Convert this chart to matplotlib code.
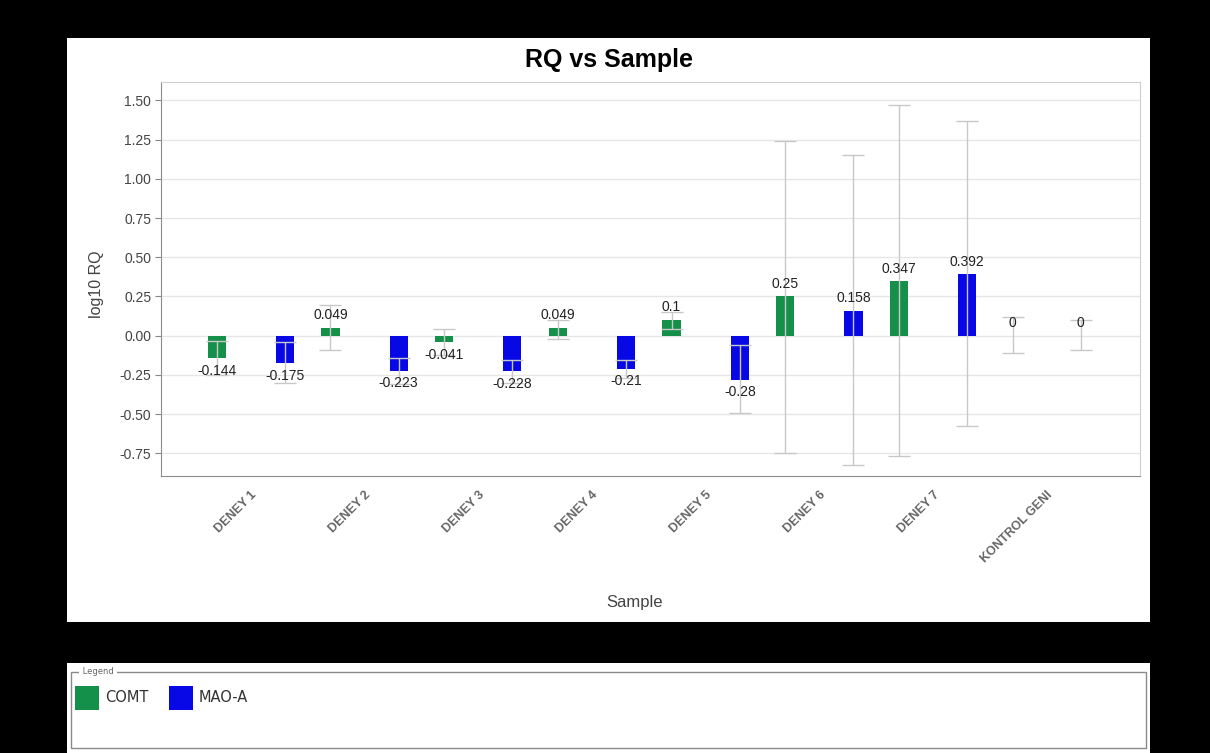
import numpy as np
import matplotlib.pyplot as plt
from matplotlib.patches import Rectangle
from matplotlib.transforms import ScaledTranslation

plt.rcParams['font.family'] = ['Liberation Sans', 'DejaVu Sans']

# ---------- data ----------
SAMPLES = ['DENEY 1', 'DENEY 2', 'DENEY 3', 'DENEY 4', 'DENEY 5',
           'DENEY 6', 'DENEY 7', 'KONTROL GENI']

comt_rq = [-0.144, 0.049, -0.041, 0.049, 0.1, 0.25, 0.347, 0]
comt_low = [-0.25, -0.09, -0.12, -0.02, 0.04, -0.745, -0.764, -0.11]
comt_high = [-0.035, 0.197, 0.044, 0.10, 0.15, 1.243, 1.473, 0.12]

maoa_rq = [-0.175, -0.223, -0.228, -0.21, -0.28, 0.158, 0.392, 0]
maoa_low = [-0.30, -0.31, -0.30, -0.27, -0.49, -0.823, -0.573, -0.09]
maoa_high = [-0.04, -0.14, -0.155, -0.155, -0.06, 1.149, 1.371, 0.10]

Y_TICKS = [-0.75, -0.5, -0.25, 0.0, 0.25, 0.5, 0.75, 1.0, 1.25, 1.5]

COLORS = {'COMT': '#15904a', 'MAO-A': '#0808e6'}
W, H = 1210, 753


def fx(px):
    return px / W


def fy(py):
    return 1 - py / H


def fmt(v):
    if v == 0:
        return '0'
    return ('%.3f' % v).rstrip('0').rstrip('.')


fig = plt.figure(figsize=(W / 100, H / 100), dpi=100, facecolor='black')

# white chart panel and legend panel (behind the axes)
fig.patches.append(Rectangle((fx(67), fy(622)), fx(1150 - 67), (622 - 38) / H,
                             transform=fig.transFigure, facecolor='white',
                             edgecolor='none', zorder=-5))
fig.patches.append(Rectangle((fx(67), fy(753)), fx(1150 - 67), (753 - 663) / H,
                             transform=fig.transFigure, facecolor='white',
                             edgecolor='none', zorder=-5))
fig.patches.append(Rectangle((fx(71), fy(748)), fx(1146 - 71), (748 - 672) / H,
                             transform=fig.transFigure, facecolor='none',
                             edgecolor='#8a8a8a', lw=1, zorder=1))
fig.text(fx(80), fy(672), ' Legend ', fontsize=6, color='#666666',
         va='center', ha='left', zorder=2, family='DejaVu Sans',
         bbox=dict(facecolor='white', edgecolor='none', pad=0.5))

for i, (name, col) in enumerate(COLORS.items()):
    x0 = 75 + i * 94
    fig.patches.append(Rectangle((fx(x0), fy(710)), fx(24), 24 / H,
                                 transform=fig.transFigure, facecolor=col,
                                 edgecolor='none', zorder=2))
    fig.text(fx(x0 + 30), fy(698), name, fontsize=10.5, color='#333333',
             va='center', ha='left', zorder=2, family='DejaVu Sans')

# ---------- plot area ----------
ax = fig.add_axes([fx(161), fy(476), fx(1140 - 161), (476 - 82) / H])
ax.set_facecolor('white')

x = np.arange(len(SAMPLES))
offset = 0.3
bar_w = 0.16

for rq, low, high, name, dx in [(comt_rq, comt_low, comt_high, 'COMT', -offset),
                                (maoa_rq, maoa_low, maoa_high, 'MAO-A', offset)]:
    rq = np.array(rq)
    yerr = [rq - np.array(low), np.array(high) - rq]
    ax.bar(x + dx, rq, width=bar_w, color=COLORS[name], zorder=3)
    ax.errorbar(x + dx, rq, yerr=yerr, fmt='none', ecolor='#c8c8c8',
                elinewidth=1, capsize=8, capthick=1, zorder=4)
    for xi, v in zip(x + dx, rq):
        if v < 0:
            ax.annotate(fmt(v), (xi, v), xytext=(0, -4), textcoords='offset points',
                        ha='center', va='top', fontsize=10, color='#222222', zorder=5)
        else:
            ax.annotate(fmt(v), (xi, v), xytext=(0, 4), textcoords='offset points',
                        ha='center', va='bottom', fontsize=10, color='#222222', zorder=5)

ax.set_xlim(-0.79, 7.82)
ax.set_ylim(-0.894, 1.617)
ax.set_yticks(Y_TICKS)
ax.set_yticklabels(['%.2f' % t for t in Y_TICKS], fontsize=10, color='#444444')
ax.grid(axis='y', color='#e6e6e6', lw=1, zorder=0)
ax.set_axisbelow(True)

ax.set_xticks(x)
ax.set_xticklabels(SAMPLES, rotation=45, ha='right', va='top',
                   rotation_mode='anchor', fontsize=9, fontweight='bold',
                   color='#666666')
shift = ScaledTranslation(10 / 100, 0, fig.dpi_scale_trans)
for lbl in ax.get_xticklabels():
    lbl.set_transform(lbl.get_transform() + shift)
ax.tick_params(axis='x', length=0, pad=9)
ax.tick_params(axis='y', length=4, color='#888888', pad=3)

for side in ['top', 'right']:
    ax.spines[side].set_color('#d0d0d0')
for side in ['left', 'bottom']:
    ax.spines[side].set_color('#8c8c8c')

fig.text(fx(609), fy(60), 'RQ vs Sample', fontsize=18, fontweight='bold',
         ha='center', va='center', color='black')
fig.text(fx(635), fy(603), 'Sample', fontsize=12, ha='center', va='center',
         color='#444444')
fig.text(fx(97), fy(284), 'log10 RQ', fontsize=11.5, ha='center', va='center',
         rotation=90, color='#444444')

fig.savefig('out.png', dpi=100, facecolor='black')
